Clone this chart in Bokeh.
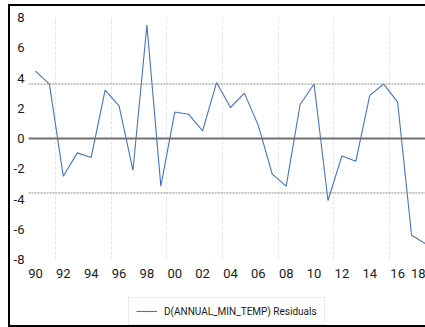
from bokeh.plotting import figure
from bokeh.layouts import column
from bokeh.models import FixedTicker, Span, Legend, LegendItem, Range1d
from bokeh.embed import file_html
from bokeh.resources import INLINE

years = list(range(1990, 2019))
residuals = [4.45, 3.6, -2.5, -0.95, -1.25, 3.2, 2.15, -2.1, 7.5, -3.15,
             1.75, 1.6, 0.5, 3.7, 2.05, 3.0, 0.85, -2.35, -3.15, 2.25,
             3.6, -4.1, -1.15, -1.5, 2.85, 3.6, 2.4, -6.4, -6.95]
x_ticks = list(range(1990, 2019, 2))
x_tick_labels = ["90", "92", "94", "96", "98", "00", "02", "04", "06", "08",
                 "10", "12", "14", "16", "18"]
y_ticks = [-8, -6, -4, -2, 0, 2, 4, 6, 8]
y_tick_labels = ["-8", "-6", "-4", "-2", "0", "2", "4", "6", "8"]
grid_x = [1991.43, 1995.43, 1999.43, 2003.43, 2007.43, 2011.43, 2015.43]
band = 3.6
series_label = "D(ANNUAL_MIN_TEMP) Residuals"

FONT = "Roboto"
LINE_COLOR = "#4472c4"

p = figure(width=415, height=286, output_backend="svg", toolbar_location=None,
           x_range=Range1d(1989.5, 2018.0), y_range=Range1d(-8, 8),
           min_border_left=15, min_border_right=0, min_border_top=11,
           min_border_bottom=33)
p.outline_line_color = None
p.background_fill_color = "white"

r = p.line(years, residuals, line_color=LINE_COLOR, line_width=1.1)

for ax in (p.xaxis, p.yaxis):
    ax.axis_line_color = None
    ax.major_tick_line_color = None
    ax.minor_tick_line_color = None
    ax.major_tick_out = 0
    ax.major_tick_in = 0
    ax.major_label_text_font = FONT
    ax.major_label_text_font_size = "13px"
    ax.major_label_text_color = "#1a1a1a"

p.xaxis.ticker = FixedTicker(ticks=x_ticks)
p.xaxis.major_label_overrides = {t: l for t, l in zip(x_ticks, x_tick_labels)}
p.xaxis.major_label_standoff = 9
p.yaxis.ticker = FixedTicker(ticks=y_ticks)
p.yaxis.major_label_overrides = {t: l for t, l in zip(y_ticks, y_tick_labels)}
p.yaxis.major_label_standoff = 4

p.ygrid.visible = False
p.xgrid.ticker = FixedTicker(ticks=grid_x)
p.xgrid.grid_line_color = "#e4e4e4"
p.xgrid.grid_line_dash = "3 2"
p.xgrid.grid_line_width = 1

p.add_layout(Span(location=0, dimension="width", line_color="#707070", line_width=2))
for b in (band, -band):
    p.add_layout(Span(location=b, dimension="width", line_color="#8a8a8a",
                      line_width=1, line_dash="2 1"))

# legend strip below the plot
q = figure(width=415, height=33, output_backend="svg", toolbar_location=None,
           x_axis_type=None, y_axis_type=None,
           x_range=Range1d(0, 1), y_range=Range1d(0, 1),
           min_border=0, min_border_left=0, min_border_right=0,
           min_border_top=0, min_border_bottom=0)
q.outline_line_color = None
q.background_fill_color = "white"
# legend sample only (kept outside the visible range)
sample = q.line(x=[5, 6], y=[5, 6], line_color=LINE_COLOR, line_width=1.1)

legend = Legend(items=[LegendItem(label=series_label, renderers=[sample])],
                location=(100, 0), orientation="horizontal",
                label_text_font=FONT, label_text_font_size="10px",
                label_text_color="#1a1a1a",
                border_line_color="#d9d9d9", border_line_width=1,
                background_fill_color="white",
                glyph_width=21, glyph_height=12, label_height=12,
                label_standoff=7, padding=7, margin=0, spacing=0)
q.add_layout(legend, "center")

layout = column(p, q, spacing=0,
                styles={"border": "2px solid #000", "border-right": "0",
                        "box-sizing": "border-box",
                        "margin-left": "8px", "margin-top": "4px"})

open("out.html", "w").write(file_html(layout, INLINE))
